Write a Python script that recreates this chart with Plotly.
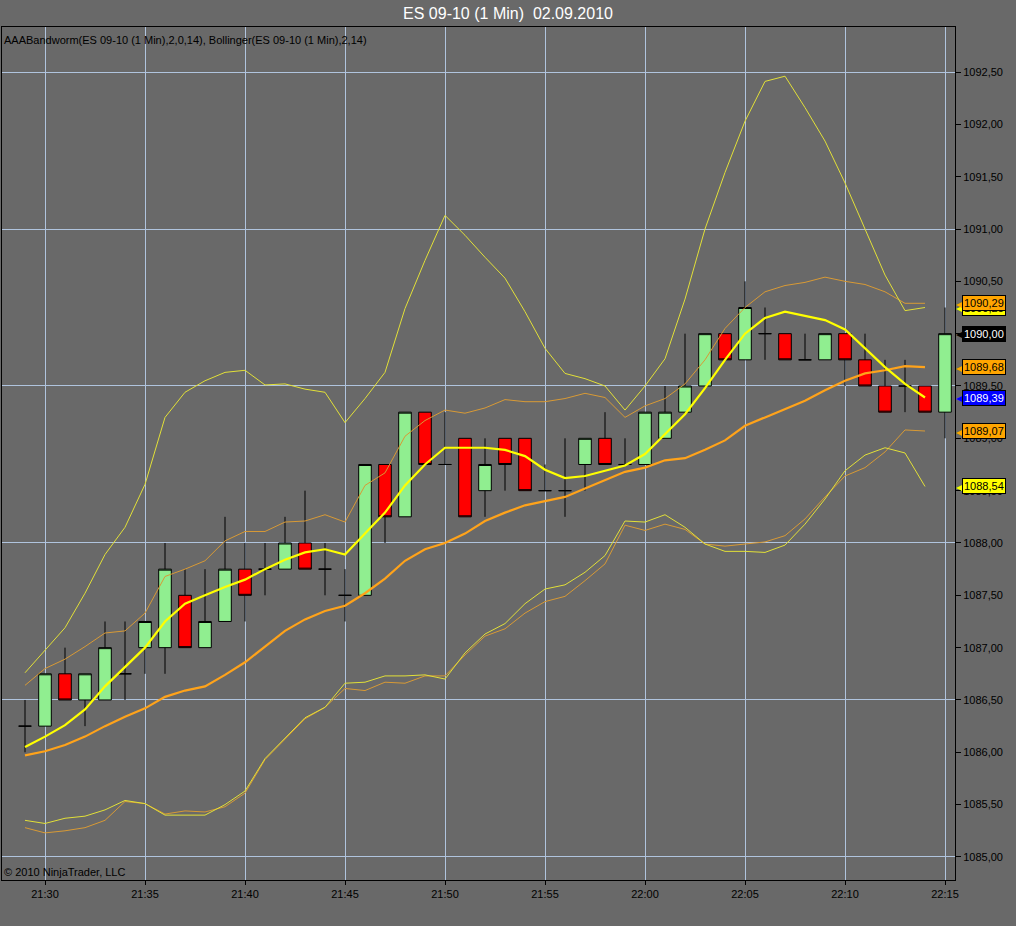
import pandas as pd
import plotly.graph_objects as go

# ES 09-10, 1 minute bars, 02.09.2010 21:29 - 22:15
times = pd.date_range("2010-09-02 21:29", periods=47, freq="min")

opens = [1086.25, 1086.25, 1086.75, 1086.50, 1086.50, 1086.75, 1087.00, 1087.00, 1087.50, 1087.00,
         1087.25, 1087.75, 1087.75, 1087.75, 1088.00, 1087.75, 1087.50, 1087.50, 1088.75, 1088.25,
         1089.25, 1088.75, 1089.00, 1088.50, 1089.00, 1089.00, 1088.50, 1088.50, 1088.75, 1089.00,
         1088.75, 1088.75, 1089.00, 1089.25, 1089.50, 1090.00, 1089.75, 1090.00, 1090.00, 1089.75,
         1089.75, 1090.00, 1089.75, 1089.50, 1089.50, 1089.50, 1089.25]
highs = [1086.50, 1086.75, 1087.00, 1086.75, 1087.25, 1087.25, 1087.25, 1088.00, 1087.75, 1087.75,
         1088.25, 1088.00, 1088.00, 1088.25, 1088.50, 1088.00, 1087.75, 1088.75, 1088.75, 1089.25,
         1089.25, 1089.25, 1089.00, 1089.00, 1089.00, 1089.00, 1088.75, 1089.00, 1089.00, 1089.25,
         1089.00, 1089.25, 1089.50, 1090.00, 1090.00, 1090.00, 1090.50, 1090.25, 1090.00, 1090.00,
         1090.00, 1090.00, 1090.00, 1089.75, 1089.75, 1089.50, 1090.25]
lows = [1086.00, 1086.25, 1086.50, 1086.25, 1086.50, 1086.50, 1086.75, 1086.75, 1087.00, 1087.00,
        1087.25, 1087.25, 1087.50, 1087.75, 1087.75, 1087.50, 1087.25, 1087.50, 1088.00, 1088.25,
        1088.75, 1088.75, 1088.25, 1088.25, 1088.50, 1088.50, 1088.50, 1088.25, 1088.50, 1088.75,
        1088.75, 1088.75, 1089.00, 1089.25, 1089.50, 1089.75, 1089.75, 1089.75, 1089.75, 1089.75,
        1089.75, 1089.50, 1089.50, 1089.25, 1089.25, 1089.25, 1089.00]
closes = [1086.25, 1086.75, 1086.50, 1086.75, 1087.00, 1086.75, 1087.25, 1087.75, 1087.00, 1087.25,
          1087.75, 1087.50, 1087.75, 1088.00, 1087.75, 1087.75, 1087.50, 1088.75, 1088.25, 1089.25,
          1088.75, 1088.75, 1088.25, 1088.75, 1088.75, 1088.50, 1088.50, 1088.50, 1089.00, 1088.75,
          1088.75, 1089.25, 1089.25, 1089.50, 1090.00, 1089.75, 1090.25, 1090.00, 1089.75, 1089.75,
          1090.00, 1089.75, 1089.50, 1089.25, 1089.50, 1089.25, 1090.00]

# Bollinger(2,14) - values up to 22:14
bb_upper = [1086.76, 1086.98, 1087.19, 1087.52, 1087.89, 1088.15, 1088.56, 1089.20, 1089.44, 1089.55,
            1089.63, 1089.65, 1089.51, 1089.52, 1089.47, 1089.44, 1089.15, 1089.38, 1089.63, 1090.24,
            1090.70, 1091.13, 1090.94, 1090.73, 1090.53, 1090.21, 1089.86, 1089.62, 1089.57, 1089.50,
            1089.27, 1089.50, 1089.76, 1090.33, 1091.00, 1091.54, 1092.03, 1092.41, 1092.46, 1092.16,
            1091.84, 1091.44, 1091.00, 1090.56, 1090.22, 1090.25]
bb_mid = [1086.05, 1086.15, 1086.26, 1086.41, 1086.63, 1086.82, 1087.00, 1087.25, 1087.42, 1087.50,
          1087.58, 1087.65, 1087.75, 1087.84, 1087.91, 1087.94, 1087.89, 1088.09, 1088.29, 1088.55,
          1088.75, 1088.91, 1088.91, 1088.91, 1088.89, 1088.83, 1088.70, 1088.62, 1088.64, 1088.69,
          1088.74, 1088.85, 1089.04, 1089.23, 1089.48, 1089.75, 1090.00, 1090.15, 1090.21, 1090.17,
          1090.13, 1090.04, 1089.86, 1089.68, 1089.52, 1089.39]
bb_lower = [1085.35, 1085.32, 1085.37, 1085.39, 1085.45, 1085.54, 1085.51, 1085.40, 1085.40, 1085.40,
            1085.50, 1085.63, 1085.94, 1086.14, 1086.33, 1086.43, 1086.66, 1086.67, 1086.73, 1086.73,
            1086.74, 1086.70, 1086.95, 1087.13, 1087.23, 1087.42, 1087.56, 1087.60, 1087.72, 1087.88,
            1088.21, 1088.20, 1088.27, 1088.15, 1087.99, 1087.92, 1087.92, 1087.91, 1087.98, 1088.18,
            1088.42, 1088.69, 1088.84, 1088.91, 1088.86, 1088.54]

# AAABandworm(2,0,14)
bw_upper = [1086.64, 1086.80, 1086.89, 1087.01, 1087.14, 1087.16, 1087.33, 1087.68, 1087.75, 1087.83,
            1088.02, 1088.11, 1088.11, 1088.20, 1088.21, 1088.27, 1088.20, 1088.55, 1088.67, 1089.02,
            1089.17, 1089.27, 1089.24, 1089.29, 1089.37, 1089.35, 1089.35, 1089.38, 1089.43, 1089.39,
            1089.20, 1089.31, 1089.38, 1089.52, 1089.75, 1090.05, 1090.25, 1090.40, 1090.46, 1090.49,
            1090.54, 1090.50, 1090.47, 1090.40, 1090.29, 1090.29]
bw_mid = [1085.97, 1086.01, 1086.07, 1086.15, 1086.25, 1086.34, 1086.42, 1086.53, 1086.59, 1086.63,
          1086.74, 1086.86, 1087.01, 1087.16, 1087.27, 1087.35, 1087.40, 1087.52, 1087.66, 1087.83,
          1087.94, 1088.00, 1088.09, 1088.21, 1088.29, 1088.36, 1088.40, 1088.44, 1088.52, 1088.60,
          1088.68, 1088.72, 1088.79, 1088.81, 1088.89, 1088.98, 1089.12, 1089.20, 1089.28, 1089.36,
          1089.46, 1089.55, 1089.62, 1089.65, 1089.69, 1089.68]
bw_lower = [1085.28, 1085.23, 1085.25, 1085.28, 1085.35, 1085.53, 1085.51, 1085.41, 1085.44, 1085.43,
            1085.48, 1085.61, 1085.93, 1086.13, 1086.32, 1086.43, 1086.61, 1086.59, 1086.67, 1086.66,
            1086.73, 1086.73, 1086.93, 1087.11, 1087.18, 1087.33, 1087.44, 1087.49, 1087.64, 1087.80,
            1088.17, 1088.12, 1088.18, 1088.13, 1087.99, 1087.97, 1087.99, 1088.01, 1088.07, 1088.23,
            1088.44, 1088.64, 1088.72, 1088.87, 1089.08, 1089.07]

BG = "#696969"
GRID = "#B0C4DE"
FONT = "Liberation Sans, Arial, sans-serif"

fig = go.Figure()

fig.add_trace(go.Candlestick(
    x=times, open=opens, high=highs, low=lows, close=closes,
    increasing=dict(line=dict(color="black", width=1), fillcolor="#90EE90"),
    decreasing=dict(line=dict(color="black", width=1), fillcolor="#FF0000"),
    whiskerwidth=0, hoverinfo="skip", showlegend=False,
))

ind_times = times[:len(bb_mid)]
lines = [
    (bw_upper, "#D89A35", 1),
    (bw_lower, "#D89A35", 1),
    (bb_upper, "#E2E038", 1),
    (bb_lower, "#E2E038", 1),
    (bw_mid, "#FFA31A", 2.2),
    (bb_mid, "#FFFF00", 2.2),
]
for vals, col, w in lines:
    fig.add_trace(go.Scatter(x=ind_times, y=vals, mode="lines",
                             line=dict(color=col, width=w),
                             hoverinfo="skip", showlegend=False))

# invisible trace so the grid axis (every 1.5 points) gets drawn
fig.add_trace(go.Scatter(x=ind_times, y=bb_mid, yaxis="y2", mode="lines",
                         line=dict(width=0), hoverinfo="skip", showlegend=False))

yrange = [1084.78, 1092.93]

fig.update_layout(
    width=1016, height=926,
    margin=dict(l=2, r=61, t=27, b=46),
    paper_bgcolor=BG, plot_bgcolor=BG,
    separators=",.",
    boxgap=0.37, boxgroupgap=0,
    font=dict(family=FONT, size=11, color="black"),
    title=dict(text="ES 09-10 (1 Min)  02.09.2010", x=0.5, xanchor="center",
               y=1 - 13 / 926, yanchor="middle", yref="container",
               font=dict(family=FONT, size=16, color="white")),
    xaxis=dict(type="date", range=["2010-09-02 21:27:51", "2010-09-02 22:15:30"],
               tick0="2010-09-02 21:30", dtick=300000, tickformat="%H:%M",
               showgrid=True, gridcolor=GRID, gridwidth=1,
               showline=True, linecolor="black", linewidth=1, mirror=True,
               ticks="outside", ticklen=4, tickcolor="black",
               rangeslider=dict(visible=False), fixedrange=True),
    yaxis=dict(side="right", range=yrange, tick0=1085, dtick=0.5, tickformat=".2f",
               showgrid=False, zeroline=False,
               showline=True, linecolor="black", linewidth=1, mirror=True,
               ticks="outside", ticklen=5, tickcolor="black", fixedrange=True),
    yaxis2=dict(overlaying="y", anchor="x", side="right", range=yrange, tick0=1085, dtick=1.5,
                showgrid=True, gridcolor=GRID, gridwidth=1, showticklabels=False,
                ticks="", showline=False, zeroline=False, fixedrange=True),
    showlegend=False,
)

fig.add_annotation(text="AAABandworm(ES 09-10 (1 Min),2,0,14), Bollinger(ES 09-10 (1 Min),2,14)",
                   xref="paper", yref="paper", x=0, y=1, xanchor="left", yanchor="top",
                   xshift=0, yshift=-5, showarrow=False, font=dict(size=11, color="black"))
fig.add_annotation(text="© 2010 NinjaTrader, LLC", xref="paper", yref="paper", x=0, y=0,
                   xanchor="left", yanchor="bottom", xshift=0, yshift=0, showarrow=False,
                   font=dict(size=11, color="black"))

# price markers on the right axis
markers = [
    (bb_upper[-1], "#FFFF00", "black"),
    (bw_upper[-1], "#FFA500", "black"),
    (closes[-1], "#000000", "white"),
    (bw_mid[-1], "#FFA500", "black"),
    (bb_mid[-1], "#0000FF", "white"),
    (bw_lower[-1], "#FFA500", "black"),
    (bb_lower[-1], "#FFFF00", "black"),
]
for val, bg, fg in markers:
    label = f"{val:.2f}".replace(".", ",")
    fig.add_annotation(text="\u25C0", xref="paper", yref="y", x=1, y=val, xanchor="left",
                       yanchor="middle", xshift=-1, showarrow=False,
                       font=dict(size=15, color=bg))
    fig.add_annotation(text=label, xref="paper", yref="y", x=1, y=val, xanchor="left",
                       yanchor="middle", xshift=7, showarrow=False, bgcolor=bg,
                       bordercolor="black", borderwidth=1, borderpad=1,
                       font=dict(size=11, color=fg))

fig.write_html("out.html", config=dict(displayModeBar=False, staticPlot=True),
               post_script="document.body.style.margin='0';document.body.style.overflow='hidden';")
